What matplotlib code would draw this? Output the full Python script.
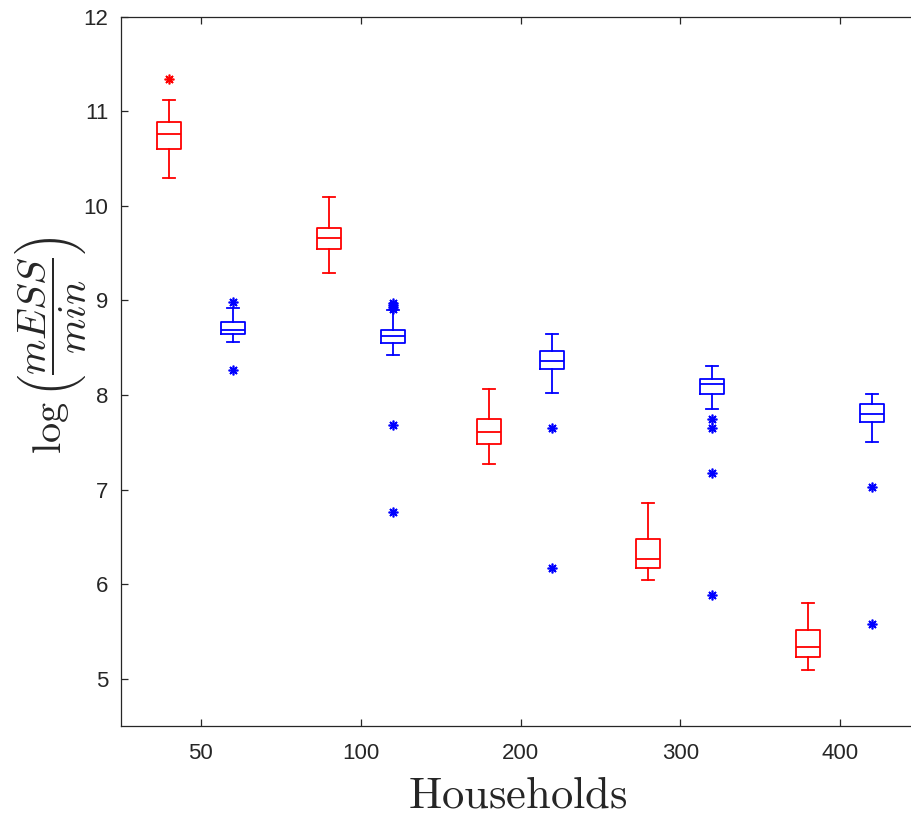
import matplotlib
matplotlib.use('Agg')
import matplotlib.pyplot as plt

plt.rcParams['mathtext.fontset'] = 'cm'
plt.rcParams['font.family'] = ['Liberation Sans', 'DejaVu Sans']

households = ['50', '100', '200', '300', '400']

# red boxes: [low whisker, q1, median, q3, high whisker]
red_stats = [
    [10.29, 10.60, 10.76, 10.89, 11.12],
    [9.29, 9.54, 9.66, 9.77, 10.09],
    [7.27, 7.48, 7.61, 7.75, 8.06],
    [6.04, 6.17, 6.27, 6.48, 6.86],
    [5.09, 5.23, 5.34, 5.51, 5.80],
]
red_fliers = [[11.34], [], [], [], []]

# blue boxes
blue_stats = [
    [8.56, 8.65, 8.69, 8.77, 8.92],
    [8.42, 8.55, 8.62, 8.69, 8.90],
    [8.02, 8.28, 8.36, 8.46, 8.64],
    [7.85, 8.01, 8.12, 8.17, 8.31],
    [7.50, 7.71, 7.80, 7.91, 8.01],
]
blue_fliers = [
    [8.98, 8.26],
    [8.97, 8.95, 8.93, 8.91, 7.68, 6.76],
    [7.65, 6.17],
    [7.75, 7.65, 7.17, 5.88],
    [7.03, 5.58],
]


def make_stats(rows, fliers):
    out = []
    for r, f in zip(rows, fliers):
        out.append({'whislo': r[0], 'q1': r[1], 'med': r[2], 'q3': r[3],
                    'whishi': r[4], 'fliers': f})
    return out


fig = plt.figure(figsize=(9.11, 8.18), dpi=100)
# axes run past the right edge, as in the cropped original
ax = fig.add_axes([121 / 911, 92 / 818, 799 / 911, 709.3 / 818])

x = list(range(1, len(households) + 1))
groups = [(red_stats, red_fliers, 'red', -0.2),
          (blue_stats, blue_fliers, 'blue', 0.2)]
for stats, fliers, color, off in groups:
    line = dict(color=color, linewidth=1.3)
    ax.bxp(make_stats(stats, fliers),
           positions=[p + off for p in x], widths=0.15, capwidths=0.075,
           boxprops=line, whiskerprops=line, capprops=line, medianprops=line,
           flierprops=dict(marker=(8, 2, 0), markeredgecolor=color,
                           markerfacecolor=color, markersize=7,
                           markeredgewidth=1.2, linestyle='none'),
           manage_ticks=False)

ax.set_xlim(0.5, 5.5)
ax.set_ylim(4.5, 12)
ax.set_xticks(x)
ax.set_xticklabels(households)
ax.set_yticks(range(5, 13))

dark = '#262626'
for s in ax.spines.values():
    s.set_color(dark)
    s.set_linewidth(0.9)
ax.tick_params(direction='in', top=True, right=True, length=5, width=0.9,
               color=dark, labelcolor=dark, labelsize=16)
ax.tick_params(axis='x', pad=12)
ax.tick_params(axis='y', pad=9)

fig.text(50 / 911, 1 - 346 / 818, r'$\log\left(\dfrac{mESS}{min}\right)$',
         rotation=90, ha='center', va='center', fontsize=29, color=dark)
fig.text(518 / 911, 1 - 796 / 818, r'$\mathrm{Households}$',
         ha='center', va='center', fontsize=32, color=dark)

fig.savefig('out.png', dpi=100)
